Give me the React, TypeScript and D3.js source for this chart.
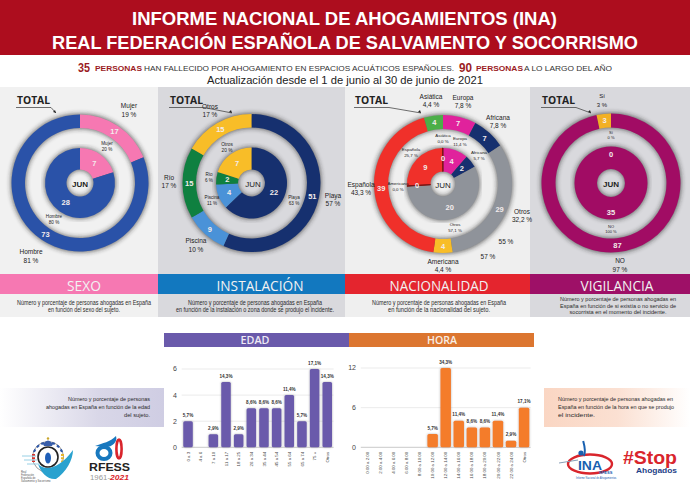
import React from "react";
import * as d3 from "d3";

const sexoLabels = ["Mujer", "Hombre"];
const sexoTotal = [17, 73];
const sexoJun = [7, 28];
const sexoColors = ["#f678b2", "#2a52a8"];

const instLabels = ["Playa", "Piscina", "Río", "Otros"];
const instTotal = [51, 9, 15, 15];
const instJun = [22, 4, 2, 7];
const instColors = ["#16306f", "#4a92d8", "#0f8040", "#f8bd28"];

const nacLabels = ["Europa", "Africana", "Otros", "Americana", "Española", "Asiática"];
const nacTotal = [7, 7, 29, 4, 39, 4];
const nacJun = [4, 2, 20, 0, 9, 0];
const nacColors = ["#e0229c", "#16306f", "#8f939a", "#f8bd28", "#f0302a", "#4cae48"];

const vigLabels = ["NO", "Sí"];
const vigTotal = [87, 3];
const vigJun = [35, 0];
const vigColors = ["#a10c64", "#f2b024"];

const edadCats = ["0 a 3", "4 a 6", "7 a 10", "11 a 17", "18 a 25", "26 a 34", "35 a 44", "45 a 54", "55 a 64", "65 a 74", "75 +", "Otros"];
const edadVals = [2, 0, 1, 5, 1, 3, 3, 3, 4, 2, 6, 5];
const edadPct = ["5,7%", "", "2,9%", "14,3%", "2,9%", "8,6%", "8,6%", "8,6%", "11,4%", "5,7%", "17,1%", "14,3%"];
const edadTicks = [0, 2, 4, 6];

const horaCats = ["0:00 a 2:00", "2:00 a 4:00", "4:00 a 6:00", "6:00 a 8:00", "8:00 a 10:00", "10:00 a 12:00", "12:00 a 14:00", "14:00 a 16:00", "16:00 a 18:00", "18:00 a 20:00", "20:00 a 22:00", "22:00 a 24:00", "Otros"];
const horaVals = [0, 0, 0, 0, 0, 2, 12, 4, 3, 3, 4, 1, 6];
const horaPct = ["", "", "", "", "", "5,7%", "34,3%", "11,4%", "8,6%", "8,6%", "11,4%", "2,9%", "17,1%"];
const horaTicks = [0, 6, 12];

const SANS = "'Liberation Sans', Arial, sans-serif";
const NARROW = "'Liberation Sans Narrow', 'Liberation Sans', sans-serif";
const DISP = "'Open Sans', 'Noto Sans', sans-serif";

type Lab = { t: string; x: number; y: number; s?: number };

function Donut({ cx, cy, vals, colors, r0, r1, shown, valueLabels, zeroColor }: any) {
  const pie = d3.pie<number>().sort(null).value((d) => d);
  const arc = d3.arc<any>().innerRadius(r0).outerRadius(r1);
  const arcs = pie(vals);
  return (
    <g transform={`translate(${cx},${cy})`}>
      <circle r={(r0 + r1) / 2} fill="none" stroke="#222" strokeWidth={r1 - r0 + 1} filter="url(#glow)" opacity={0.7} />
      {arcs.map((a, i) => <path key={i} d={arc(a) as string} fill={colors[i]} />)}
      {zeroColor && arcs.map((a, i) => shown[i] === 0 && (
        <path key={"z" + i} d={arc(a) as string} fill={zeroColor} stroke={zeroColor} strokeWidth={1} />
      ))}
      {arcs.map((a, i) => {
        const v = shown ? shown[i] : vals[i];
        const o = valueLabels && valueLabels[i];
        if (v === 0 && !o) return null;
        const [x, y] = arc.centroid(a);
        return (
          <text key={"t" + i} x={o ? o[0] : x} y={(o ? o[1] : y) + 2.6} textAnchor="middle" fontSize={7.5} fontWeight={600} fill="#f3ecec" fontFamily={SANS}>{v}</text>
        );
      })}
    </g>
  );
}

function TotalTag({ x, y, ax, ay }: { x: number; y: number; ax: number; ay: number }) {
  return (
    <g>
      <text x={x} y={y} fontSize={10.5} fontWeight={700} fill="#222" fontFamily={DISP} textLength={33} lengthAdjust="spacingAndGlyphs">TOTAL</text>
      <path d={`M${x - 1},${y + 3.5} H${x + 34} L${ax},${ay}`} fill="none" stroke="#333" strokeWidth={0.7} />
      <path d={`M${ax},${ay} l-3,-1 l2,-2 z`} fill="#222" />
    </g>
  );
}

function Labels({ items }: { items: Lab[] }) {
  return (
    <g fill="#222" fontFamily={SANS} textAnchor="middle">
      {items.map((l, i) => <text key={i} x={l.x} y={l.y} fontSize={l.s ?? 6}>{l.t}</text>)}
    </g>
  );
}

function Caption({ x, y, lines, w, dy = 6.5, anchor = "middle", size = 6 }: { x: number; y: number; lines: string[]; w: number[]; dy?: number; anchor?: string; size?: number }) {
  return (
    <g fill="#2a2a2a" fontFamily={NARROW} fontSize={size} textAnchor={anchor}>
      {lines.map((l, i) => <text key={i} x={x} y={y + i * dy} textLength={w[i]} lengthAdjust="spacingAndGlyphs">{l}</text>)}
    </g>
  );
}

function Band({ x, w, color, label, tw, tc }: { x: number; w: number; color: string; label: string; tw: number; tc: number }) {
  return (
    <g>
      <rect x={x} y={274} width={w} height={20} fill={color} />
      <text x={tc} y={291} textAnchor="middle" fontSize={14} fill="#f2f2f2" fontFamily={DISP} textLength={tw} lengthAdjust="spacingAndGlyphs">{label}</text>
    </g>
  );
}

function Bars({ cats, vals, pct, ticks, x0, x1, yMax, y0, yTop, color, pad, tickX }: any) {
  const x = d3.scaleBand<string>().domain(cats).range([x0, x1]).paddingInner(pad).paddingOuter(pad / 2);
  const y = d3.scaleLinear().domain([0, yMax]).range([y0, yTop]);
  return (
    <g fontFamily={SANS}>
      {ticks.map((t: number) => (
        <g key={t}>
          <line x1={x0} x2={x1} y1={y(t)} y2={y(t)} stroke={t === 0 ? "#bbb" : "#e6e6e6"} strokeWidth={0.8} />
          <text x={tickX} y={y(t) + 2.4} textAnchor="end" fontSize={7} fill="#444">{t}</text>
        </g>
      ))}
      {cats.map((c: string, i: number) => vals[i] > 0 && (
        <rect key={c} x={x(c)} y={y(vals[i])} width={x.bandwidth()} height={y0 - y(vals[i])} rx={1.5} fill={color} filter="url(#soft)" />
      ))}
      {cats.map((c: string, i: number) => pct[i] && (
        <text key={"p" + c} x={x(c)! + x.bandwidth() / 2} y={y(vals[i]) - 4.4} textAnchor="middle" fontSize={4.6} fontWeight={700} fill="#333">{pct[i]}</text>
      ))}
      {cats.map((c: string) => (
        <text key={"c" + c} transform={`translate(${x(c)! + x.bandwidth() / 2 + 1.6},${y0 + 4.5}) rotate(-90)`} textAnchor="end" fontSize={4.4} fill="#444">{c}</text>
      ))}
    </g>
  );
}

function Logos() {
  return (
    <g>
      <circle cx={48} cy={457} r={15.5} fill="#fff" stroke="#555" strokeWidth={0.6} />
      <circle cx={48} cy={457} r={10} fill="#fff" stroke="#222" strokeWidth={1.6} />
      <path d="M34,452 a15,15 0 0 1 28,0" fill="none" stroke="#2e57a8" strokeWidth={2} strokeDasharray="3 2.5" />
      <path d="M33.5,454 v8" stroke="#d9342c" strokeWidth={3} strokeDasharray="2 1.2" />
      <path d="M62.5,454 v8" stroke="#e6b52e" strokeWidth={3} strokeDasharray="2 1.2" />
      <path d="M43,444 q5,-7 10,0 l-1,2 h-8 z" fill="#3a5faa" />
      <circle cx={48} cy={438.5} r={1.2} fill="#c9a62c" />
      <ellipse cx={48} cy={458} rx={3} ry={5.5} fill="#1f5fb8" />
      <path d="M38,464 C46,472 60,468 73,450 C73,460 66,472 56,479 C48,480 41,473 38,464 z" fill="#2aa2cf" />
      <path d="M22,456 H36 M24,460 H37 M27,464 H40" stroke="#8ccbe2" strokeWidth={0.9} />
      <g fill="#555" fontSize={2.6} fontFamily={SANS}>
        <text x={21} y={473}>Real</text>
        <text x={21} y={476}>Federación</text>
        <text x={21} y={479}>Española de</text>
        <text x={21} y={482}>Salvamento y Socorrismo</text>
      </g>
      <ellipse cx={104} cy={453} rx={6.5} ry={6} fill="none" stroke="#1878be" strokeWidth={4} />
      <ellipse cx={119} cy={449} rx={2.6} ry={9.5} fill="none" stroke="#d9252c" strokeWidth={2.6} />
      <path d="M95,446 C103,443 110,442 116,436 C118,442 112,447 106,447 z" fill="#1878be" />
      <text x={89} y={471} fontFamily={SANS} fontWeight={700} fontSize={11.5} fill="#222" textLength={41} lengthAdjust="spacingAndGlyphs">RFESS</text>
      <text x={90} y={480} fontFamily={SANS} fontSize={7.5} fill="#999" textLength={20} lengthAdjust="spacingAndGlyphs">1961-</text>
      <text x={110} y={480} fontFamily={SANS} fontSize={7.5} fontWeight={700} fontStyle="italic" fill="#d9252c" textLength={19} lengthAdjust="spacingAndGlyphs">2021</text>

      <ellipse cx={590} cy={464} rx={22} ry={9.5} fill="none" stroke="#d9252c" strokeWidth={2.4} />
      <path d="M559,463 L578,460" stroke="#8aa0b8" strokeWidth={1} />
      <circle cx={581} cy={453} r={2.6} fill="#1860b0" />
      <path d="M584,456 q2,-5 -0.8,-15" fill="none" stroke="#1860b0" strokeWidth={2} />
      <text x={578} y={470} fontFamily={SANS} fontWeight={700} fontSize={13} fill="#1860b0" textLength={24} lengthAdjust="spacingAndGlyphs">INA</text>
      <text x={599} y={473.5} fontFamily={SANS} fontWeight={700} fontSize={4} fill="#1860b0">RFESS</text>
      <text x={576} y={478.5} fontFamily={SANS} fontSize={2.6} fill="#1860b0">Informe Nacional de Ahogamientos</text>

      <text x={623} y={463.5} fontFamily={SANS} fontWeight={700} fontSize={18} fill="#d9252c" textLength={54} lengthAdjust="spacingAndGlyphs">#Stop</text>
      <text x={636} y={473} fontFamily={SANS} fontWeight={700} fontSize={6.5} fill="#1e3f88" textLength={41} lengthAdjust="spacingAndGlyphs">Ahogados</text>
    </g>
  );
}

export default function App() {
  return (
    <svg width={690} height={488} viewBox="0 0 690 488" style={{ position: "absolute", left: 0, top: 0, background: "#fff" }}>
      <defs>
        <filter id="glow" x="-30%" y="-30%" width="160%" height="160%"><feGaussianBlur stdDeviation={2.6} /></filter>
        <filter id="soft" x="-30%" y="-10%" width="160%" height="120%">
          <feDropShadow dx={0} dy={0} stdDeviation={1} floodColor="#555" floodOpacity={0.45} />
        </filter>
        <linearGradient id="lgL" x1="0" x2="1" y1="0" y2="0">
          <stop offset="0" stopColor="#fff" /><stop offset="0.6" stopColor="#d9d7e8" /><stop offset="1" stopColor="#cfcde3" />
        </linearGradient>
        <linearGradient id="lgR" x1="0" x2="1" y1="0" y2="0">
          <stop offset="0" stopColor="#fad6c3" /><stop offset="0.5" stopColor="#fbe0d2" /><stop offset="1" stopColor="#fff" />
        </linearGradient>
      </defs>

      <rect x={0} y={0} width={690} height={55} fill="#ad0d1e" />
      <g fill="#fff" fontFamily={SANS} fontWeight={700}>
        <text x={132} y={25} fontSize={19} textLength={425} lengthAdjust="spacingAndGlyphs">INFORME NACIONAL DE AHOGAMIENTOS (INA)</text>
        <text x={52} y={49} fontSize={19} textLength={586} lengthAdjust="spacingAndGlyphs">REAL FEDERACIÓN ESPAÑOLA DE SALVAMENTO Y SOCORRISMO</text>
      </g>
      <g fontFamily={NARROW}>
        <text x={78} y={71.5} fontSize={13.5} fontWeight={700} fill="#9b1b24" textLength={12} lengthAdjust="spacingAndGlyphs">35</text>
        <text x={95} y={71} fontSize={7.5} fontWeight={700} fill="#9b1b24" textLength={47} lengthAdjust="spacingAndGlyphs">PERSONAS</text>
        <text x={144} y={71} fontSize={8} fill="#333" textLength={310} lengthAdjust="spacingAndGlyphs">HAN FALLECIDO POR AHOGAMIENTO EN ESPACIOS ACUÁTICOS ESPAÑOLES.</text>
        <text x={459} y={71.5} fontSize={13} fontWeight={700} fill="#9b1b24" textLength={13} lengthAdjust="spacingAndGlyphs">90</text>
        <text x={476} y={71} fontSize={7.5} fontWeight={700} fill="#9b1b24" textLength={47} lengthAdjust="spacingAndGlyphs">PERSONAS</text>
        <text x={524} y={71} fontSize={8} fill="#333" textLength={88} lengthAdjust="spacingAndGlyphs">A LO LARGO DEL AÑO</text>
        <text x={207} y={84} fontSize={11} fill="#222" textLength={276} lengthAdjust="spacingAndGlyphs">Actualización desde el 1 de junio al 30 de junio de 2021</text>
      </g>

      <rect x={0} y={87} width={158} height={230} fill="#f1f1f1" />
      <rect x={158} y={87} width={187} height={230} fill="#d9d9dd" />
      <rect x={345} y={87} width={185} height={230} fill="#efefef" />
      <rect x={530} y={87} width={160} height={230} fill="#d9d9dd" />

      <Donut cx={80} cy={183} vals={sexoTotal} colors={sexoColors} r0={55} r1={68.5} />
      <Donut cx={80} cy={183} vals={sexoJun} colors={sexoColors} r0={13.5} r1={35} />
      <Labels items={[
        { t: sexoLabels[0], x: 129, y: 108, s: 6.5 }, { t: "19 %", x: 129, y: 116.5, s: 6.5 },
        { t: sexoLabels[0], x: 107, y: 145, s: 4.6 }, { t: "20 %", x: 107, y: 151, s: 4.6 },
        { t: sexoLabels[1], x: 54, y: 218, s: 4.6 }, { t: "80 %", x: 54, y: 224, s: 4.6 },
        { t: sexoLabels[1], x: 31, y: 254, s: 6.5 }, { t: "81 %", x: 31, y: 263, s: 6.5 },
      ]} />
      <text x={80} y={186.5} textAnchor="middle" fontSize={8} fontWeight={700} fill="#222" fontFamily={SANS}>JUN</text>
      <TotalTag x={17} y={104} ax={56} ay={113} />

      <Donut cx={251.5} cy={183} vals={instTotal} colors={instColors} r0={55.5} r1={69} />
      <Donut cx={251.5} cy={183} vals={instJun} colors={instColors} r0={13.5} r1={35.5} />
      <Labels items={[
        { t: instLabels[3], x: 210, y: 109, s: 6.5 }, { t: "17 %", x: 210, y: 117, s: 6.5 },
        { t: instLabels[3], x: 227, y: 146, s: 4.8 }, { t: "20 %", x: 227, y: 152, s: 4.8 },
        { t: instLabels[2], x: 209, y: 176, s: 4.6 }, { t: "6 %", x: 209, y: 182, s: 4.6 },
        { t: instLabels[1], x: 212, y: 199, s: 4.6 }, { t: "11 %", x: 212, y: 205, s: 4.6 },
        { t: instLabels[0], x: 294, y: 199, s: 4.6 }, { t: "63 %", x: 294, y: 205, s: 4.6 },
        { t: instLabels[0], x: 333, y: 198, s: 6.5 }, { t: "57 %", x: 333, y: 206, s: 6.5 },
        { t: instLabels[2], x: 169, y: 180, s: 6.5 }, { t: "17 %", x: 169, y: 188, s: 6.5 },
        { t: instLabels[1], x: 196, y: 243, s: 6.5 }, { t: "10 %", x: 196, y: 251.5, s: 6.5 },
      ]} />
      <text x={253} y={186.5} textAnchor="middle" fontSize={8} fill="#222" fontFamily={SANS}>JUN</text>
      <TotalTag x={170} y={104} ax={232} ay={113} />

      <Donut cx={443} cy={184} vals={nacTotal} colors={nacColors} r0={55} r1={69} />
      <Donut cx={443} cy={184} vals={nacJun.map((d) => (d === 0 ? 0.06 : d))} shown={nacJun} colors={nacColors} r0={12.5} r1={36} zeroColor="#7a1414"
        valueLabels={[null, null, null, [-26, 1], null, [0, -26]]} />
      <Labels items={[
        { t: nacLabels[5], x: 431, y: 99, s: 6.5 }, { t: "4,4 %", x: 431, y: 107, s: 6.5 },
        { t: nacLabels[0], x: 463, y: 100, s: 6.5 }, { t: "7,8 %", x: 463, y: 108, s: 6.5 },
        { t: nacLabels[1], x: 498, y: 120, s: 6.5 }, { t: "7,8 %", x: 498, y: 128, s: 6.5 },
        { t: nacLabels[5], x: 443, y: 137, s: 4.4 }, { t: "0,0 %", x: 443, y: 143, s: 4.4 },
        { t: nacLabels[0], x: 460, y: 140, s: 4.4 }, { t: "11,4 %", x: 460, y: 146, s: 4.4 },
        { t: nacLabels[1], x: 479, y: 154, s: 4.4 }, { t: "5,7 %", x: 479, y: 160, s: 4.4 },
        { t: nacLabels[4], x: 411, y: 151, s: 4.4 }, { t: "25,7 %", x: 411, y: 157, s: 4.4 },
        { t: nacLabels[3], x: 398, y: 185, s: 4.4 }, { t: "0,0 %", x: 398, y: 191, s: 4.4 },
        { t: nacLabels[2], x: 455, y: 226, s: 4.4 }, { t: "57,1 %", x: 455, y: 232, s: 4.4 },
        { t: nacLabels[4], x: 361, y: 187, s: 6.5 }, { t: "43,3 %", x: 361, y: 195, s: 6.5 },
        { t: nacLabels[2], x: 522, y: 214, s: 6.5 }, { t: "32,2 %", x: 522, y: 222, s: 6.5 },
        { t: nacLabels[3], x: 443, y: 264, s: 6.5 }, { t: "4,4 %", x: 443, y: 272, s: 6.5 },
        { t: "55 %", x: 506, y: 244, s: 6.5 }, { t: "57 %", x: 488, y: 259, s: 6.5 },
      ]} />
      <text x={443} y={187.5} textAnchor="middle" fontSize={8} fill="#222" fontFamily={SANS}>JUN</text>
      <TotalTag x={355} y={104} ax={421} ay={113} />

      <Donut cx={611} cy={183} vals={vigTotal} colors={vigColors} r0={55.5} r1={69.5} />
      <Donut cx={611} cy={183} vals={vigJun.map((d) => (d === 0 ? 0.001 : d))} shown={vigJun} colors={vigColors} r0={14} r1={36.5} valueLabels={[[0, 29], [0, -29]]} />
      <Labels items={[
        { t: vigLabels[1], x: 602, y: 98, s: 6 }, { t: "3 %", x: 602, y: 106.5, s: 6 },
        { t: vigLabels[1], x: 611, y: 134, s: 4 }, { t: "0 %", x: 611, y: 139, s: 4 },
        { t: vigLabels[0], x: 611, y: 228, s: 4 }, { t: "100 %", x: 611, y: 233, s: 4 },
        { t: vigLabels[0], x: 620, y: 263, s: 6.5 }, { t: "97 %", x: 620, y: 271.5, s: 6.5 },
      ]} />
      <text x={611} y={186.5} textAnchor="middle" fontSize={8} fontWeight={700} fill="#222" fontFamily={SANS}>JUN</text>
      <TotalTag x={542} y={104} ax={591} ay={113} />

      <Band x={0} w={158} color="#f678b2" label="SEXO" tw={34} tc={84} />
      <Band x={158} w={187} color="#1278bf" label="INSTALACIÓN" tw={87} tc={260} />
      <Band x={345} w={185} color="#e4252e" label="NACIONALIDAD" tw={99} tc={439} />
      <Band x={530} w={160} color="#9e1067" label="VIGILANCIA" tw={73} tc={617} />

      <Caption x={84} y={305} lines={["Número y porcentaje de personas ahogadas en España", "en función del sexo del sujeto."]} w={[134, 72]} size={6.5} />
      <Caption x={255} y={305} lines={["Número y porcentaje de personas ahogadas en España", "en función de la instalación o zona donde se produjo el incidente."]} w={[134, 158]} size={6.5} />
      <Caption x={439} y={305} lines={["Número y porcentaje de personas ahogadas en España", "en función de la nacionalidad del sujeto."]} w={[134, 102]} size={6.5} />
      <Caption x={618} y={301} lines={["Número y porcentaje de personas ahogadas en", "España en función de si existía o no servicio de", "socorrista en el momento del incidente."]} w={[116, 116, 97]} size={6} />

      <rect x={164} y={333} width={185} height={14} fill="#6a5aab" />
      <text x={255} y={344} textAnchor="middle" fontSize={11} fontWeight={600} fill="#eeeaf5" fontFamily={DISP} textLength={29} lengthAdjust="spacingAndGlyphs">EDAD</text>
      <rect x={349} y={333} width={185} height={14} fill="#dc7630" />
      <text x={442} y={344} textAnchor="middle" fontSize={11} fontWeight={600} fill="#f8eee6" fontFamily={DISP} textLength={30} lengthAdjust="spacingAndGlyphs">HORA</text>

      <rect x={0} y={388} width={164} height={39} fill="url(#lgL)" />
      <Caption x={150} y={401} lines={["Número y porcentaje de personas", "ahogadas en España en función de la edad", "del sujeto."]} w={[82, 104, 26]} dy={8} anchor="end" size={6} />
      <rect x={544} y={388} width={146} height={39} fill="url(#lgR)" />
      <Caption x={558} y={401} lines={["Número y porcentaje de personas ahogadas en", "España en función de la hora en que se produjo", "el incidente."]} w={[115, 116, 37]} dy={8} anchor="start" size={6} />

      <Bars cats={edadCats} vals={edadVals} pct={edadPct} ticks={edadTicks} x0={181.7} x1={333.6} yMax={6} y0={447.3} yTop={369} color="#6a5aab" pad={0.25} tickX={177} />
      <Bars cats={horaCats} vals={horaVals} pct={horaPct} ticks={horaTicks} x0={360.8} x1={530.6} yMax={12} y0={447.3} yTop={368} color="#f47b2a" pad={0.2} tickX={356} />

      <Logos />
    </svg>
  );
}
